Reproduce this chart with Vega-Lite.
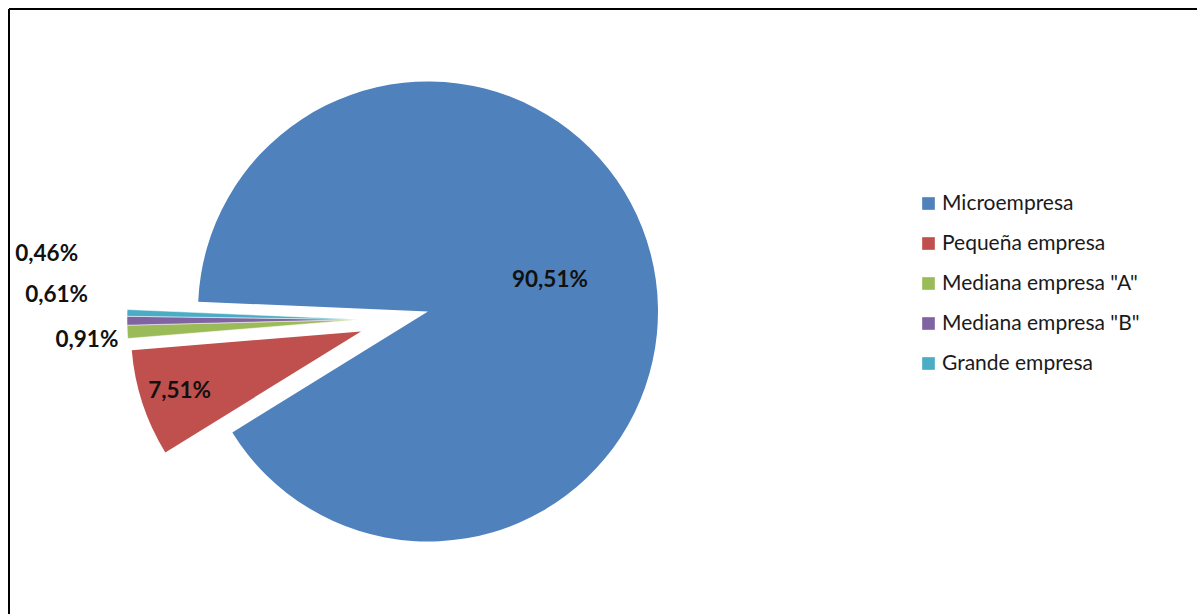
{
  "$schema": "https://vega.github.io/schema/vega-lite/v6.json",
  "width": 1197,
  "height": 614,
  "autosize": {"type": "fit", "contains": "padding"},
  "padding": {"left": 9, "top": 9, "right": 0, "bottom": 0},
  "background": "#ffffff",
  "view": {"stroke": "#000000", "strokeWidth": 2, "strokeDash": [1188, 1793, 605, 0]},
  "config": {
    "view": {"stroke": "#000000", "strokeWidth": 2, "strokeDash": [1188, 1793, 605, 0]},
    "font": "Lato"
  },
  "data": {
    "values": [
      {"category": "Microempresa", "value": 90.51, "label": "90,51%", "orden": 1},
      {"category": "Pequeña empresa", "value": 7.51, "label": "7,51%", "orden": 2},
      {"category": "Mediana empresa \"A\"", "value": 0.91, "label": "0,91%", "orden": 3},
      {"category": "Mediana empresa \"B\"", "value": 0.61, "label": "0,61%", "orden": 4},
      {"category": "Grande empresa", "value": 0.46, "label": "0,46%", "orden": 5}
    ]
  },
  "encoding": {
    "theta": {"field": "value", "type": "quantitative", "stack": true, "scale": {"domain": [0, 100], "range": [4.75516, 11.03835]}},
    "order": {"field": "orden", "type": "quantitative", "sort": "ascending"}
  },
  "layer": [
    {
      "mark": {"type": "arc", "radius": 230, "xOffset": -175, "yOffset": 0},
      "encoding": {
        "color": {
          "field": "category", "type": "nominal",
          "scale": {
            "domain": ["Microempresa", "Pequeña empresa", "Mediana empresa \"A\"", "Mediana empresa \"B\"", "Grande empresa"],
            "range": ["#4F81BD", "#C0504D", "#9BBB59", "#8064A2", "#4BACC6"]
          },
          "legend": {
            "title": null,
            "orient": "none",
            "legendX": 909,
            "legendY": 184,
            "symbolType": "square",
            "symbolSize": 160,
            "symbolStrokeWidth": 0,
            "labelFont": "Lato",
            "labelFontSize": 21,
            "labelColor": "#1a1a1a",
            "labelOffset": 3,
            "labelLimit": 0,
            "rowPadding": 18,
            "padding": 0
          }
        },
        "opacity": {"condition": {"test": "datum.category === 'Microempresa'", "value": 1}, "value": 0}
      }
    },
    {
      "mark": {"type": "arc", "radius": 230, "xOffset": -242, "yOffset": 20},
      "encoding": {
        "color": {"field": "category", "type": "nominal"},
        "opacity": {"condition": {"test": "datum.category === 'Pequeña empresa'", "value": 1}, "value": 0}
      }
    },
    {
      "mark": {"type": "arc", "radius": 233, "xOffset": -243, "yOffset": 8, "stroke": "#ffffff", "strokeWidth": 0.5},
      "encoding": {
        "color": {"field": "category", "type": "nominal"},
        "opacity": {"condition": {"test": "datum.orden >= 3", "value": 1}, "value": 0}
      }
    },
    {
      "mark": {"type": "text", "radius": 126, "xOffset": -175, "yOffset": 0, "fontWeight": "bold", "fontSize": 22.5, "color": "#111111", "baseline": "middle"},
      "encoding": {
        "detail": {"field": "category", "type": "nominal"},
        "text": {"condition": {"test": "datum.orden === 1", "field": "label"}, "value": ""}
      }
    },
    {
      "mark": {"type": "text", "radius": 191, "xOffset": -242, "yOffset": 20, "fontWeight": "bold", "fontSize": 22.5, "color": "#111111", "baseline": "middle"},
      "encoding": {
        "detail": {"field": "category", "type": "nominal"},
        "text": {"condition": {"test": "datum.orden === 2", "field": "label"}, "value": ""}
      }
    },
    {
      "mark": {"type": "text", "radius": 250, "xOffset": -243, "yOffset": 8, "dx": 8, "dy": 7, "align": "right", "fontWeight": "bold", "fontSize": 22.5, "color": "#111111", "baseline": "middle"},
      "encoding": {
        "detail": {"field": "category", "type": "nominal"},
        "text": {"condition": {"test": "datum.orden === 3", "field": "label"}, "value": ""}
      }
    },
    {
      "mark": {"type": "text", "radius": 250, "xOffset": -243, "yOffset": 8, "dx": -22, "dy": -26, "align": "right", "fontWeight": "bold", "fontSize": 22.5, "color": "#111111", "baseline": "middle"},
      "encoding": {
        "detail": {"field": "category", "type": "nominal"},
        "text": {"condition": {"test": "datum.orden === 4", "field": "label"}, "value": ""}
      }
    },
    {
      "mark": {"type": "text", "radius": 250, "xOffset": -243, "yOffset": 8, "dx": -32, "dy": -58, "align": "right", "fontWeight": "bold", "fontSize": 22.5, "color": "#111111", "baseline": "middle"},
      "encoding": {
        "detail": {"field": "category", "type": "nominal"},
        "text": {"condition": {"test": "datum.orden === 5", "field": "label"}, "value": ""}
      }
    }
  ]
}
